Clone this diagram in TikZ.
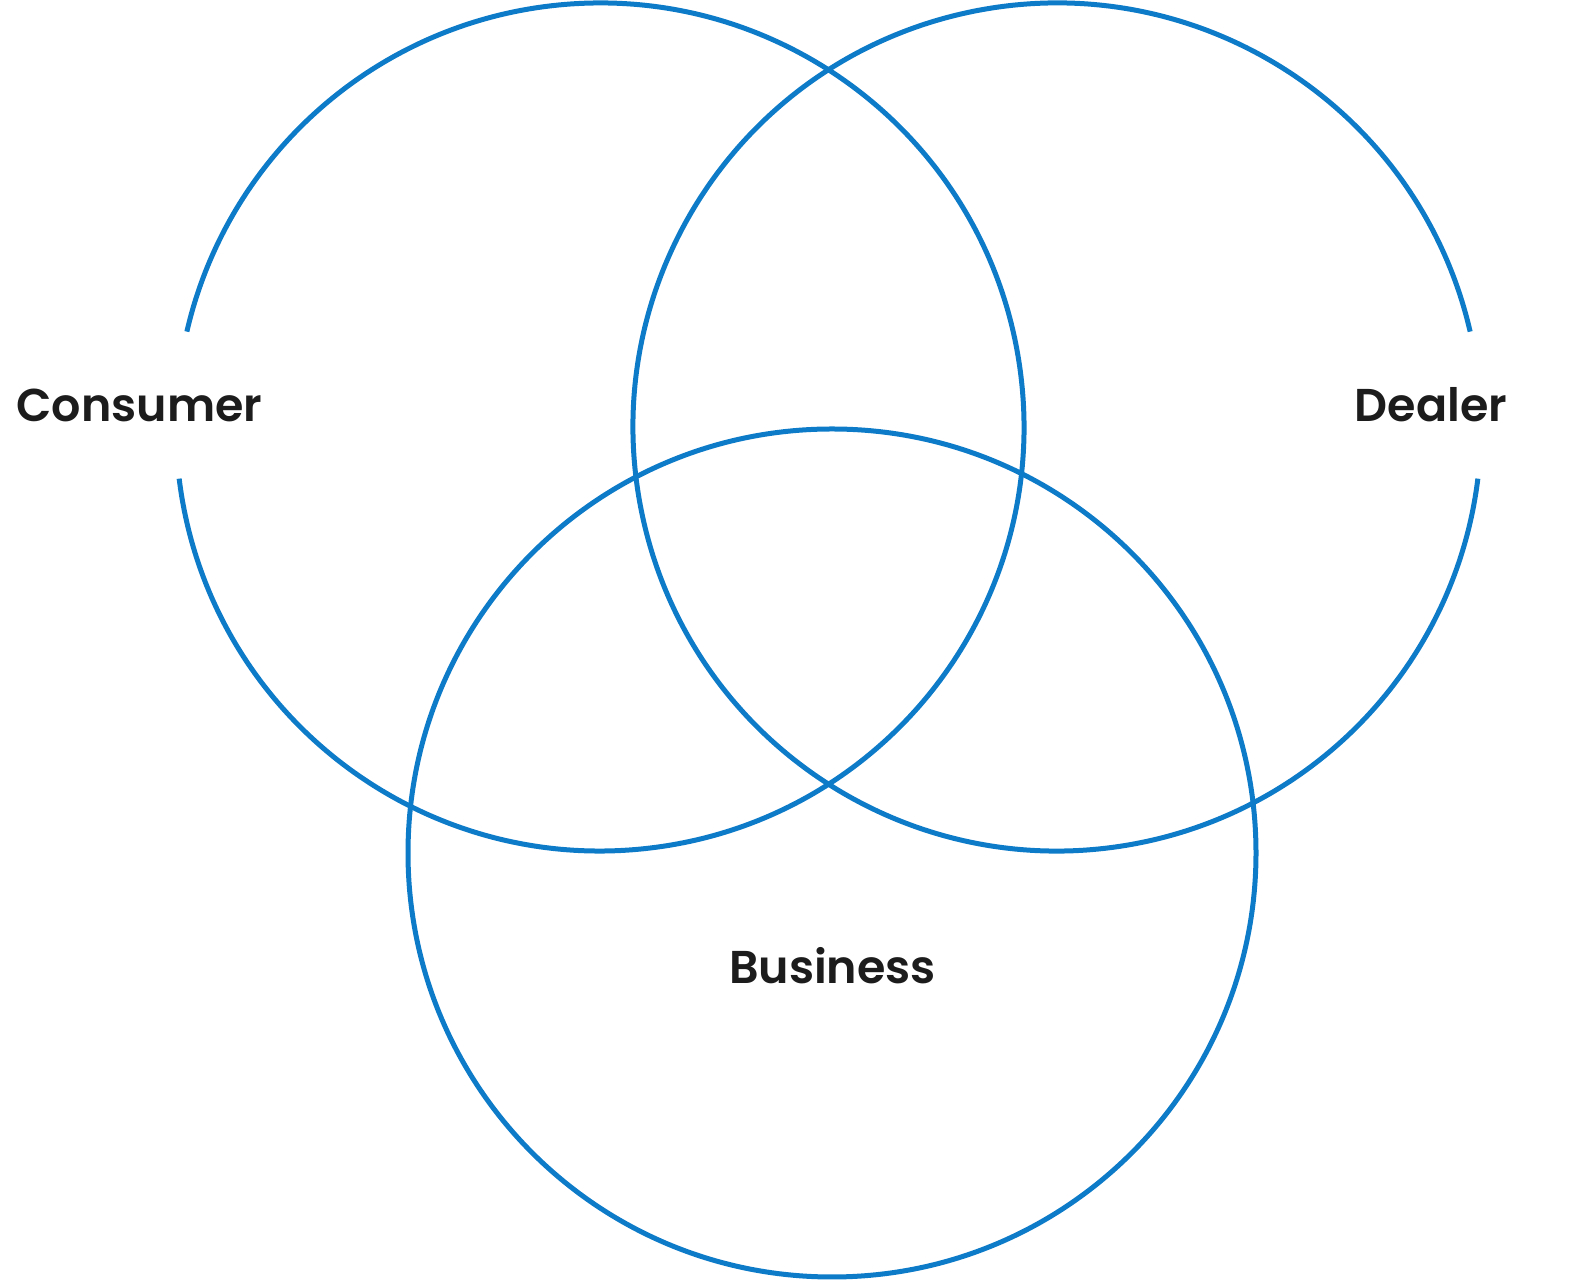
\documentclass[tikz,border=0pt]{standalone}
\usepackage{fontspec}
\setmainfont{Poppins}[BoldFont={Poppins SemiBold}]
\usepackage{tikz}
\definecolor{ringblue}{HTML}{0E7BC9}
\definecolor{labelink}{HTML}{1C1C1C}

\begin{document}
\begin{tikzpicture}[x=0.5pt, y=0.5pt, ring/.style={ringblue, line width=2.5pt},
  label/.style={labelink, anchor=base, font=\fontsize{23}{26}\selectfont\bfseries, inner sep=0pt}]
\useasboundingbox (0,0) rectangle (1594,1283);
\coordinate (consumer) at (600,856);
\coordinate (dealer) at (1057,856);
\coordinate (business) at (832,430);
\draw[ring] ([shift={(187:424)}]consumer) arc[start angle=187, end angle=527, radius=424];
\draw[ring] ([shift={(13:424)}]dealer) arc[start angle=13, end angle=353, radius=424];
\draw[ring] (business) circle[radius=424];
\node[label] (consumerlabel) at (139.5,861) {Consumer};
\node[label] (dealerlabel) at (1431,861) {Dealer};
\node[label] (businesslabel) at (832.5,299) {Business};
\end{tikzpicture}
\end{document}
